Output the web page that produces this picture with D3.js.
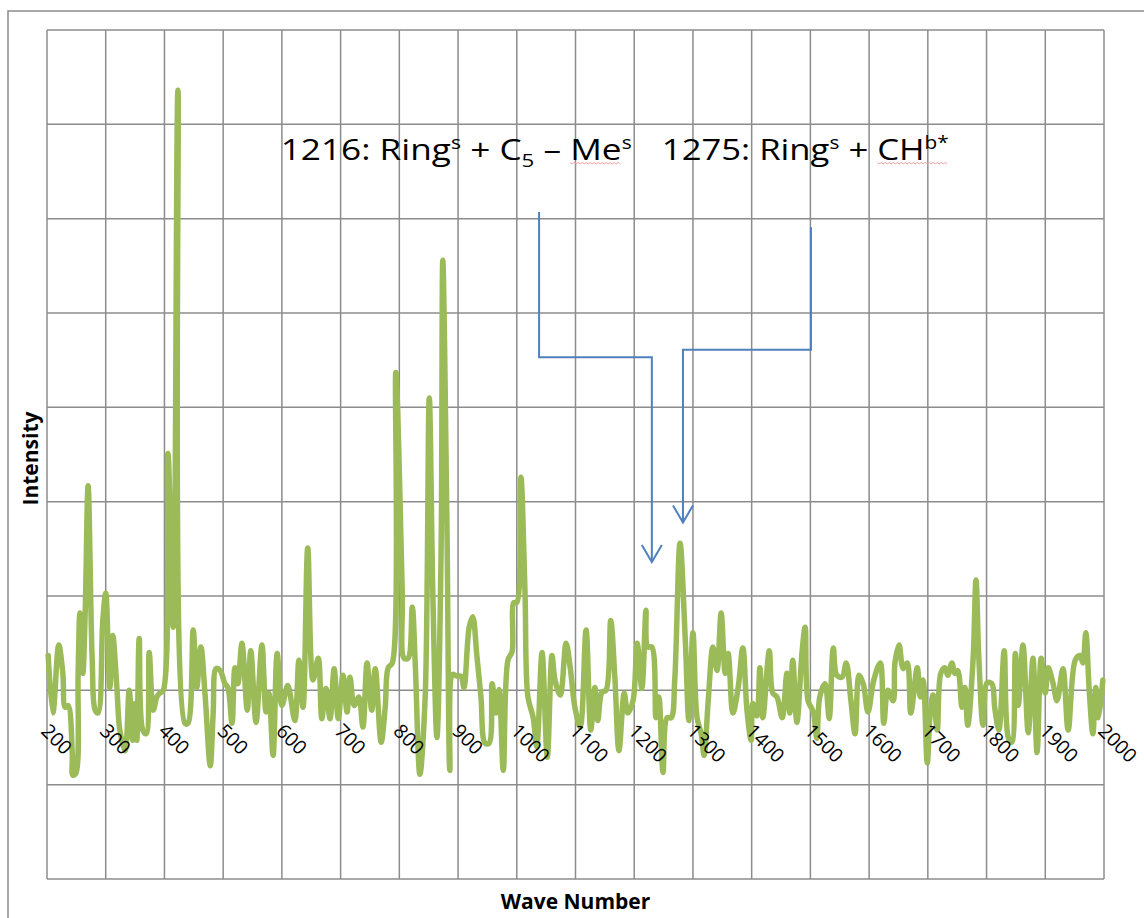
<!DOCTYPE html>
<html>
<head>
<meta charset="utf-8">
<script src="https://cdn.jsdelivr.net/npm/d3@7/dist/d3.min.js"></script>
<style>
  html, body { margin: 0; padding: 0; background: #ffffff; }
  svg { display: block; }
  text { white-space: pre; }
</style>
</head>
<body>
<svg id="chart" width="1144" height="918"></svg>
<script>
// ---- data ----
const waveNumber = [
  202,210,220,227,231,236,243,244,249,253,256,261,265,270,277,282,287,295,300,307,
  312,319,324,333,340,346,350,353,357,363,369,374,381,387,392,398,406,415,423,435,
  440,449,455,462,469,478,483,488,495,503,508,515,520,525,532,541,547,556,566,573,
  578,585,592,600,610,622,629,636,644,653,662,668,675,682,689,696,704,711,716,723,
  731,738,745,753,759,769,776,781,788,794,805,808,815,822,827,835,844,851,857,864,
  871,874,881,886,891,898,905,910,919,925,932,939,946,953,958,965,970,977,985,992,
  995,1000,1007,1014,1019,1028,1034,1043,1052,1060,1065,1074,1084,1091,1099,1108,1118,1126,1133,1138,
  1145,1152,1160,1167,1174,1183,1189,1198,1205,1213,1220,1223,1230,1237,1242,1249,1256,1263,1269,1278,
  1287,1293,1300,1307,1314,1319,1326,1334,1341,1348,1355,1360,1368,1377,1385,1392,1399,1402,1409,1414,
  1419,1430,1436,1443,1452,1460,1465,1470,1477,1486,1491,1496,1505,1511,1516,1525,1532,1539,1545,1554,
  1561,1569,1576,1583,1590,1598,1608,1619,1625,1632,1641,1644,1651,1658,1665,1671,1682,1687,1692,1699,
  1704,1709,1716,1722,1729,1734,1741,1746,1751,1758,1763,1768,1777,1782,1787,1794,1801,1809,1814,1821,
  1830,1837,1843,1849,1854,1862,1871,1879,1886,1893,1900,1905,1913,1920,1930,1939,1951,1959,1964,1969,
  1975,1981,1986,1991,1998
];
const intensity = [
  37,-24,48,18,-18,-16,-67,-90,-88,18,82,18,82,217,32,-21,-24,74,103,3,
  58,3,-42,-64,0,-53,-14,-53,55,-42,-46,40,-21,-7,-3,0,251,67,636,-35,
  -35,64,3,46,-3,-80,-24,23,21,7,3,-35,24,7,50,-21,42,-34,48,-23,
  -3,-69,39,-16,5,-32,32,-18,151,11,34,-30,2,-30,23,-30,16,-23,14,-16,
  -7,-39,29,-21,23,-55,-18,24,29,337,104,34,34,88,30,-89,-7,310,104,-50,
  141,456,179,-85,17,15,15,3,67,78,37,-7,-56,-56,7,-24,1,-85,32,41,
  93,93,226,104,-7,-29,-60,40,-71,37,11,-5,50,24,-18,-39,64,-42,3,-32,
  -2,0,74,14,-64,-3,-24,-11,50,2,85,46,46,-29,-7,-87,-29,-29,11,156,
  53,-32,61,-29,-46,-69,-11,46,21,82,18,39,-24,3,45,-21,-53,-14,-27,24,
  -29,42,-3,-7,-29,18,-24,32,-34,42,67,-11,-23,-51,-7,7,-30,45,16,14,
  29,-11,-46,16,7,-23,11,29,-35,0,-11,29,48,23,29,-24,24,-7,11,-77,
  -24,-5,-42,18,24,16,29,18,21,-18,3,-37,32,117,32,-37,8,7,-19,-42,
  42,-50,-55,39,-16,48,-45,34,-66,34,-3,24,8,-11,23,-42,32,37,29,61,
  -2,-46,3,-29,11
];
const xTickValues = [200,300,400,500,600,700,800,900,1000,1100,1200,1300,1400,1500,1600,1700,1800,1900,2000];
const yGridValues = [-200,-100,0,100,200,300,400,500,600,700];
const xTitle = "Wave Number";
const yTitle = "Intensity";
// annotation arrows (wave number, intensity)
const arrow1216 = [[1038,507],[1038,353],[1230,353],[1230,136]];
const arrow1275 = [[1501,491],[1501,361],[1283,361],[1283,178]];
const label1216 = {w: 598, v: 562};
const label1275 = {w: 1247, v: 562};

// ---- drawing ----
const svg = d3.select("#chart");
const x = d3.scaleLinear().domain([200, 2000]).range([47, 1104]);
const y = d3.scaleLinear().domain([-200, 700]).range([879, 30]);
const gridColor = "#8c8c8c";

// outer chart frame (extends past right/bottom of picture)
svg.append("rect")
  .attr("x", 8).attr("y", 11).attr("width", 1160).attr("height", 930)
  .attr("fill", "none").attr("stroke", gridColor).attr("stroke-width", 1.5);

// grid
const grid = svg.append("g");
grid.selectAll("line.v").data(xTickValues).join("line")
  .attr("x1", d => x(d)).attr("x2", d => x(d))
  .attr("y1", y(700)).attr("y2", y(-200))
  .attr("stroke", gridColor).attr("stroke-width", 1.5);
grid.selectAll("line.h").data(yGridValues).join("line")
  .attr("y1", d => y(d)).attr("y2", d => y(d))
  .attr("x1", x(200)).attr("x2", x(2000))
  .attr("stroke", gridColor).attr("stroke-width", 1.5);

// spectrum line
const pts = waveNumber.map((w, i) => [w, intensity[i]]);
svg.append("path")
  .datum(pts)
  .attr("fill", "none")
  .attr("stroke", "#9bbb59")
  .attr("stroke-width", 5.5)
  .attr("stroke-linejoin", "round")
  .attr("stroke-linecap", "round")
  .attr("d", d3.line().x(d => x(d[0])).y(d => y(d[1])).curve(d3.curveCatmullRom.alpha(0.5)));

// tick labels (rotated 45deg), drawn over the line as in the reference
svg.append("g").selectAll("text").data(xTickValues).join("text")
  .attr("transform", d => `translate(${x(d) - 7},${y(0) + 42}) rotate(45)`)
  .attr("font-family", "'Open Sans', sans-serif")
  .attr("font-size", 19.5)
  .attr("fill", "#000")
  .text(d => d);

// axis titles
svg.append("text")
  .attr("x", (x(200) + x(2000)) / 2).attr("y", 909)
  .attr("text-anchor", "middle")
  .attr("font-family", "'Open Sans', sans-serif")
  .attr("font-weight", "bold").attr("font-size", 21)
  .text(xTitle);
svg.append("text")
  .attr("transform", `translate(38,${(y(700) + y(-200)) / 2 + 4}) rotate(-90)`)
  .attr("text-anchor", "middle")
  .attr("font-family", "'Open Sans', sans-serif")
  .attr("font-weight", "bold").attr("font-size", 21)
  .text(yTitle);

// arrows
const arrowColor = "#4f81bd";
function drawArrow(p) {
  const line = d3.line().x(d => x(d[0])).y(d => y(d[1]));
  svg.append("path").attr("d", line(p))
    .attr("fill", "none").attr("stroke", arrowColor).attr("stroke-width", 2);
  const tip = p[p.length - 1];
  const tx = x(tip[0]), ty = y(tip[1]);
  svg.append("path")
    .attr("d", `M${tx - 10},${ty - 17} L${tx},${ty} L${tx + 10},${ty - 17}`)
    .attr("fill", "none").attr("stroke", arrowColor).attr("stroke-width", 2);
}
drawArrow(arrow1216);
drawArrow(arrow1275);

// annotation text
const fontMain = "'Open Sans', sans-serif";
function annot(pos, parts, len) {
  const t = svg.append("text")
    .attr("x", x(pos.w)).attr("y", y(pos.v))
    .attr("font-family", fontMain).attr("font-size", 30).attr("fill", "#000")
    .attr("textLength", len).attr("lengthAdjust", "spacingAndGlyphs");
  parts.forEach(p => {
    t.append("tspan").attr("font-size", p.size || 30).attr("dy", p.dy || 0).text(p.t);
  });
  return t;
}
const t1 = annot(label1216, [
  {t: "1216: Ring"}, {t: "s", size: 18, dy: -11}, {t: " + C", dy: 11},
  {t: "5", size: 19, dy: 7}, {t: " \u2013 Me", dy: -7}, {t: "s", size: 18, dy: -11}
], 351);
const t2 = annot(label1275, [
  {t: "1275: Ring"}, {t: "s", size: 18, dy: -11}, {t: " + CH", dy: 11},
  {t: "b*", size: 18, dy: -11}
], 287);

// spell-check squiggles under "Me" and "CHb*"
function squiggle(textSel, i0, i1) {
  const node = textSel.node();
  try {
    const a = node.getStartPositionOfChar(i0).x;
    const b = node.getEndPositionOfChar(i1).x;
    const yb = y(label1216.v) + 2.5;
    let d = `M${a},${yb}`;
    let k = 0;
    for (let xx = a + 2; xx <= b; xx += 2) { k++; d += ` L${xx},${yb + (k % 2 ? 1.2 : -0.2)}`; }
    svg.append("path").attr("d", d).attr("fill", "none")
      .attr("stroke", "#f0a0a0").attr("stroke-width", 1);
  } catch (e) {}
}
squiggle(t1, 19, 20);
squiggle(t2, 14, 17);
</script>
</body>
</html>
